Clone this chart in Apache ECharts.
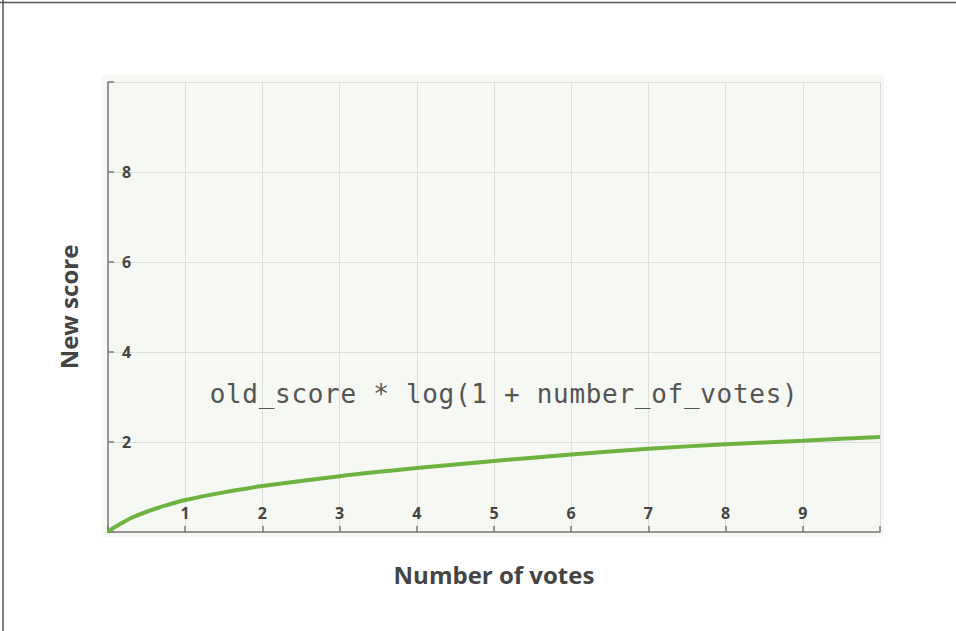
<!DOCTYPE html>
<html>
<head>
<meta charset="utf-8">
<script src="https://cdn.jsdelivr.net/npm/echarts@6/dist/echarts.min.js"></script>
<style>
  html, body { margin: 0; padding: 0; background: #fff; }
  #chart { width: 956px; height: 631px; }
  #chart text[style*="DejaVu Sans Mono"] { letter-spacing: 0.7px; }
</style>
</head>
<body>
<div id="chart"></div>
<script>
// Data
var votes  = [0, 0.05, 0.15, 0.3, 0.5, 0.75, 1, 1.5, 2, 3, 4, 5, 6, 7, 8, 9, 10];
var scores = [0, 0.07, 0.17, 0.31, 0.45, 0.59, 0.71, 0.88, 1.02, 1.24, 1.42, 1.58, 1.72, 1.85, 1.95, 2.03, 2.11];
var xTicks = [1, 2, 3, 4, 5, 6, 7, 8, 9];
var yTicks = [2, 4, 6, 8];
var formulaText = 'old_score * log(1 + number_of_votes)';
var xName = 'Number of votes';
var yName = 'New score';

var chart = echarts.init(document.getElementById('chart'), null, { renderer: 'svg' });

var labelStyle = { color: '#444', fontFamily: 'Open Sans', fontWeight: 'bold', fontSize: 16 };

chart.setOption({
  animation: false,
  backgroundColor: '#fff',
  grid: { left: 108, right: 76, top: 82, bottom: 99, containLabel: false },
  xAxis: {
    type: 'value', min: 0, max: 10, interval: 1,
    name: xName, nameLocation: 'middle', nameGap: 30,
    nameTextStyle: { color: '#444', fontFamily: 'Open Sans', fontWeight: 'bold', fontSize: 24 },
    axisLine: { show: true, onZero: false, lineStyle: { color: '#7a7a7a', width: 1.5 } },
    axisTick: { show: true, inside: true, length: 6, lineStyle: { color: '#7a7a7a', width: 1.5 } },
    axisLabel: Object.assign({ inside: true, margin: 11, showMinLabel: true, showMaxLabel: true,
      formatter: function (v) { return xTicks.indexOf(v) >= 0 ? String(v) : ''; } }, labelStyle),
    splitLine: { show: true, lineStyle: { color: '#dedede', width: 1 } }
  },
  yAxis: {
    type: 'value', min: 0, max: 10, interval: 2,
    name: yName, nameLocation: 'middle', nameGap: 28, nameRotate: 90,
    nameTextStyle: { color: '#444', fontFamily: 'Open Sans', fontWeight: 'bold', fontSize: 24 },
    axisLine: { show: true, onZero: false, lineStyle: { color: '#7a7a7a', width: 1.5 } },
    axisTick: { show: true, inside: true, length: 6, lineStyle: { color: '#7a7a7a', width: 1.5 } },
    axisLabel: Object.assign({ inside: true, margin: 14,
      formatter: function (v) { return yTicks.indexOf(v) >= 0 ? String(v) : ''; } }, labelStyle),
    splitLine: { show: true, lineStyle: { color: '#dedede', width: 1 } }
  },
  graphic: [
    { type: 'rect', z: -100, silent: true,
      shape: { x: 102, y: 75, width: 782, height: 462 },
      style: { fill: '#f6f8f3' } },
    { type: 'line', silent: true, shape: { x1: 0, y1: 2.5, x2: 956, y2: 2.5 },
      style: { stroke: '#555', lineWidth: 1.5 } },
    { type: 'line', silent: true, shape: { x1: 3, y1: 0, x2: 3, y2: 631 },
      style: { stroke: '#555', lineWidth: 1.5 } },
    { type: 'text', silent: true, x: 504, y: 394, z: 10,
      style: { text: formulaText, fill: '#555', font: '26px "DejaVu Sans Mono"',
               textAlign: 'center', textVerticalAlign: 'middle' } }
  ],
  series: [{
    type: 'line',
    data: votes.map(function (v, i) { return [v, scores[i]]; }),
    smooth: 0.3,
    showSymbol: false,
    lineStyle: { color: '#6cb33f', width: 4 },
    z: 5
  }]
});
</script>
</body>
</html>
